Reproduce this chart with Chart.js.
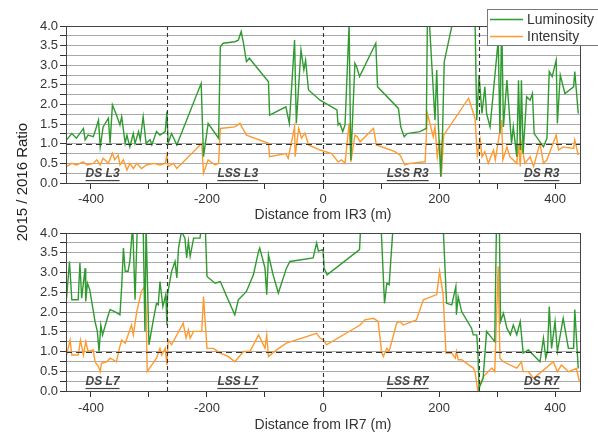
<!DOCTYPE html>
<html>
<head>
<meta charset="utf-8">
<script src="https://cdn.jsdelivr.net/npm/chart.js@4.4.1/dist/chart.umd.min.js"></script>
<style>
  body { margin: 0; background: #fff; }
  #wrap { position: relative; width: 598px; height: 434px; overflow: hidden; }
  canvas { position: absolute; left: 0; }
  #topChart { top: 0; }
  #botChart { top: 217px; }
  #ytitle {
    position: absolute; left: -78px; top: 172px; width: 200px; line-height: 20px;
    text-align: center; font-family: Arial, "Liberation Sans", sans-serif;
    font-size: 15px; font-weight: 400; color: #222;
    transform: rotate(-90deg);
  }
</style>
</head>
<body>
<div id="wrap">
  <canvas id="topChart" width="598" height="224"></canvas>
  <canvas id="botChart" width="598" height="217"></canvas>
  <div id="ytitle">2015 / 2016 Ratio</div>
</div>
<script>
// ---- data: [distance (m), 2015/2016 ratio] ----
const ir3Luminosity = [
  [-442,1.10],[-433,1.26],[-425,1.14],[-413,1.39],[-410,1.10],[-405,1.22],[-396,1.18],[-393,1.31],
  [-387,1.60],[-384,0.92],[-379,1.43],[-370,1.65],[-367,1.01],[-363,1.99],[-356,1.73],[-350,1.48],
  [-347,1.69],[-341,1.01],[-338,1.22],[-333,0.92],[-327,1.26],[-324,1.01],[-318,1.31],[-315,1.10],
  [-310,1.69],[-305,1.01],[-298,1.10],[-295,0.97],[-287,1.31],[-281,1.22],[-272,1.31],[-269,1.82],
  [-267,1.01],[-261,1.26],[-252,0.97],[-210,2.54],[-206,0.67],[-198,1.52],[-180,1.14],[-177,3.47],
  [-172,3.56],[-152,3.60],[-146,3.64],[-141,3.86],[-137,3.56],[-132,3.09],[-127,3.18],[-94,2.58],
  [-92,1.73],[-64,1.94],[-58,1.52],[-49,3.64],[-46,1.52],[-38,3.39],[-33,2.88],[-30,3.13],
  [-25,2.37],[-5,2.11],[24,1.86],[26,1.48],[29,1.52],[34,1.31],[38,1.48],[45,4.05],[48,0.58],
  [55,3.05],[58,2.96],[63,2.71],[91,3.56],[94,2.45],[130,1.90],[134,1.43],[140,1.18],[145,1.26],
  [167,1.31],[178,1.39],[180,4.2],[183,4.2],[193,1.60],[196,2.88],[199,1.43],[203,0.16],[206,1.26],
  [209,3.09],[225,4.2],[262,4.2],[265,1.60],[269,2.75],[274,1.77],[279,2.45],[282,1.77],[288,1.43],
  [302,3.64],[305,1.26],[308,4.2],[311,1.43],[317,2.62],[325,1.01],[328,1.43],[334,0.67],[337,2.62],
  [340,0.84],[342,2.62],[345,0.75],[351,2.20],[357,2.11],[361,2.28],[364,1.26],[380,0.92],[386,1.14],
  [390,2.84],[395,2.71],[402,3.13],[404,1.52],[409,2.75],[417,2.28],[432,2.45],[434,2.84],[440,1.77]
];
const ir3Intensity = [
  [-442,0.42],[-433,0.50],[-425,0.46],[-413,0.54],[-407,0.46],[-396,0.50],[-390,0.59],[-384,0.46],
  [-379,0.63],[-370,0.50],[-363,0.76],[-359,0.59],[-353,0.71],[-350,0.46],[-344,0.59],[-338,0.33],
  [-333,0.50],[-327,0.37],[-321,0.50],[-313,0.37],[-304,0.46],[-292,0.50],[-281,0.46],[-272,0.50],
  [-269,0.71],[-267,0.42],[-258,0.50],[-252,0.37],[-209,1.01],[-206,0.25],[-198,0.59],[-186,0.46],
  [-180,0.50],[-177,1.39],[-152,1.43],[-143,1.52],[-140,1.43],[-132,1.22],[-94,1.01],[-92,0.67],
  [-64,0.75],[-60,0.63],[-49,1.43],[-48,0.67],[-42,1.39],[-37,1.14],[-31,1.27],[-25,0.97],
  [-5,0.84],[15,0.75],[26,0.54],[32,0.59],[38,0.50],[45,1.52],[48,0.54],[55,1.22],[59,1.18],
  [64,1.05],[87,1.39],[92,0.97],[124,0.80],[133,0.71],[141,0.46],[150,0.50],[176,0.54],[180,1.77],
  [190,1.18],[193,1.43],[197,0.67],[201,1.10],[204,0.16],[208,1.22],[251,2.16],[262,1.65],[266,0.71],
  [271,1.10],[274,0.67],[279,0.80],[285,0.50],[294,0.84],[297,0.59],[308,1.60],[310,0.59],[317,0.92],
  [322,0.67],[334,0.50],[337,1.01],[340,0.42],[342,1.01],[348,0.50],[357,0.67],[363,0.42],[374,1.01],
  [380,0.50],[386,0.59],[402,1.22],[406,0.84],[414,0.92],[432,0.88],[434,1.10],[440,0.71]
];
const ir7Luminosity = [
  [-442,2.35],[-437,3.28],[-433,2.31],[-422,2.31],[-419,3.24],[-416,2.35],[-410,3.11],[-409,2.27],
  [-406,2.73],[-402,2.56],[-393,1.76],[-389,1.51],[-386,1.00],[-383,1.67],[-380,1.42],[-370,1.93],
  [-367,2.06],[-359,2.01],[-350,1.93],[-347,2.65],[-344,3.62],[-341,3.03],[-336,3.03],[-333,3.28],
  [-328,4.2],[-324,2.31],[-320,4.2],[-310,4.2],[-307,1.51],[-305,4.2],[-300,1.17],[-292,1.84],
  [-287,2.22],[-284,2.18],[-281,2.77],[-276,2.14],[-271,2.44],[-269,1.67],[-268,2.44],[-261,3.03],
  [-255,3.28],[-252,2.86],[-249,3.62],[-244,4.04],[-238,3.87],[-235,3.37],[-232,3.79],[-229,3.41],
  [-223,3.87],[-212,3.87],[-209,4.2],[-203,4.2],[-200,2.90],[-186,2.73],[-177,2.77],[-166,2.39],
  [-152,1.93],[-146,2.31],[-137,2.44],[-132,2.52],[-120,2.94],[-111,3.54],[-109,3.62],[-100,3.11],
  [-97,2.44],[-94,3.45],[-86,2.94],[-77,2.48],[-63,3.11],[-57,3.28],[-17,3.37],[-11,3.75],[-8,3.54],
  [0,3.58],[2,3.11],[7,2.94],[63,3.58],[65,4.2],[100,4.2],[106,2.22],[110,2.73],[114,2.69],[121,4.2],
  [207,4.2],[213,2.22],[222,2.18],[229,2.65],[230,1.93],[233,2.39],[239,2.01],[256,1.59],[259,1.42],
  [265,1.42],[267,1.00],[269,0.07],[276,0.32],[282,1.51],[296,1.25],[299,4.2],[304,4.2],[306,1.76],
  [311,1.97],[317,1.59],[323,1.42],[328,1.67],[334,1.42],[340,1.76],[345,0.96],[354,1.04],[374,0.74],
  [380,1.34],[384,0.83],[387,1.00],[390,2.14],[394,1.08],[400,1.76],[404,1.00],[414,1.84],[423,1.08],
  [432,1.08],[434,2.06],[440,0.57]
];
const ir7Intensity = [
  [-442,0.91],[-436,1.29],[-433,0.91],[-422,0.91],[-418,1.29],[-413,0.91],[-409,1.25],[-405,1.00],
  [-396,1.04],[-393,0.74],[-387,0.62],[-384,0.49],[-382,0.70],[-373,0.74],[-367,0.83],[-356,0.74],
  [-351,1.08],[-347,1.29],[-341,1.21],[-330,1.67],[-327,1.42],[-321,2.01],[-313,2.52],[-307,2.65],
  [-305,2.10],[-303,0.49],[-287,0.83],[-281,1.08],[-278,0.91],[-272,1.08],[-269,0.66],[-267,1.29],
  [-261,1.17],[-241,1.72],[-236,1.34],[-232,1.55],[-229,1.34],[-223,1.51],[-209,1.51],[-206,2.39],
  [-200,1.08],[-189,1.08],[-177,0.96],[-163,0.87],[-152,0.74],[-137,1.00],[-126,1.00],[-111,1.42],
  [-100,1.08],[-97,1.42],[-94,0.87],[-80,1.04],[-63,1.21],[-11,1.46],[-5,1.34],[1,1.29],[6,1.17],
  [64,1.67],[72,1.80],[87,1.84],[95,1.76],[101,1.00],[104,0.87],[110,1.08],[114,1.00],[127,1.72],
  [133,1.76],[138,1.67],[161,1.80],[173,2.31],[196,2.44],[201,3.03],[207,2.44],[212,0.96],[222,0.96],
  [228,0.83],[230,1.00],[233,0.79],[239,0.79],[259,0.58],[262,0.49],[267,0.00],[276,0.36],[291,0.58],
  [296,0.49],[302,3.16],[305,0.83],[311,0.74],[322,0.66],[334,0.58],[342,0.74],[345,0.49],[354,0.49],
  [363,0.32],[377,0.49],[397,0.74],[404,0.49],[411,0.66],[423,0.49],[437,0.57],[442,0.24]
];

const seriesNames = ['Luminosity', 'Intensity'];
const seriesColors = ['#2f9a2f', '#ff9a2e'];
const xRange = [-443, 443];
const yRange = [0, 4];
const sectorEdges = [-269, 0, 269];   // dashed vertical separators
const unityRatio = 1.0;               // dashed horizontal reference
const ir3Regions = ['DS L3', 'LSS L3', 'LSS R3', 'DS R3'];
const ir7Regions = ['DS L7', 'LSS L7', 'LSS R7', 'DS R7'];
const regionCenters = [-380, -147, 146, 377];
const regionLabelY = 0.23;

Chart.defaults.font.family = 'Arial, "Liberation Sans", sans-serif';
Chart.defaults.color = '#333';

// frame, dashed guides and region labels
const guidesPlugin = {
  id: 'guides',
  afterDatasetsDraw(chart, args, opts) {
    const { ctx, chartArea: a, scales: { x, y } } = chart;
    ctx.save();
    ctx.strokeStyle = '#333';
    ctx.lineWidth = 1.1;
    ctx.setLineDash([4, 3]);
    sectorEdges.forEach(v => {
      const px = Math.round(x.getPixelForValue(v)) + 0.5;
      ctx.beginPath(); ctx.moveTo(px, a.top); ctx.lineTo(px, a.bottom); ctx.stroke();
    });
    ctx.setLineDash([6, 4]);
    const py1 = Math.round(y.getPixelForValue(unityRatio)) + 0.5;
    ctx.beginPath(); ctx.moveTo(a.left, py1); ctx.lineTo(a.right, py1); ctx.stroke();
    ctx.setLineDash([]);

    ctx.font = 'italic bold 12px Arial, "Liberation Sans", sans-serif';
    ctx.fillStyle = '#444';
    ctx.textAlign = 'center';
    ctx.textBaseline = 'middle';
    opts.labels.forEach((t, i) => {
      const px = x.getPixelForValue(regionCenters[i]);
      const py = y.getPixelForValue(regionLabelY);
      ctx.fillText(t, px, py);
      const w = ctx.measureText(t).width;
      ctx.fillRect(px - w / 2, py + 6, w, 1.2);
    });

    ctx.strokeStyle = '#444';
    ctx.lineWidth = 1;
    ctx.strokeRect(a.left + 0.5, a.top + 0.5, a.right - a.left, a.bottom - a.top);
    ctx.restore();
  }
};

// legend box drawn over the upper-right corner of the top panel
const legendPlugin = {
  id: 'boxLegend',
  afterDraw(chart, args, opts) {
    if (!opts.show) return;
    const { ctx } = chart;
    ctx.save();
    ctx.fillStyle = '#fff';
    ctx.fillRect(487, 9, 112, 36);
    ctx.strokeStyle = '#777';
    ctx.lineWidth = 1;
    ctx.strokeRect(487.5, 9.5, 112, 36);
    ctx.font = '14px Arial, "Liberation Sans", sans-serif';
    ctx.textBaseline = 'middle';
    chart.data.datasets.forEach((ds, i) => {
      const yy = 19 + i * 17;
      ctx.strokeStyle = ds.borderColor;
      ctx.lineWidth = 1.5;
      ctx.beginPath(); ctx.moveTo(490, yy + 0.5); ctx.lineTo(523, yy + 0.5); ctx.stroke();
      ctx.fillStyle = '#333';
      ctx.fillText(ds.label, 527, yy + 1);
    });
    ctx.restore();
  }
};

function toPoints(arr) {
  return arr.map(([x, y]) => ({ x, y }));
}

function makePanel(id, lum, inten, regions, xTitle, padTop, xHeight, tickPad, showLegend) {
  return new Chart(document.getElementById(id), {
    type: 'line',
    data: {
      datasets: [lum, inten].map((d, i) => ({
        label: seriesNames[i],
        data: toPoints(d),
        borderColor: seriesColors[i],
        borderWidth: 1.4,
        pointRadius: 0,
        tension: 0,
        fill: false,
        clip: 0
      }))
    },
    options: {
      responsive: false,
      animation: false,
      events: [],
      layout: { padding: { top: padTop, right: 18, left: 0, bottom: 0 } },
      plugins: {
        legend: { display: false },
        tooltip: { enabled: false },
        guides: { labels: regions },
        boxLegend: { show: showLegend }
      },
      scales: {
        x: {
          type: 'linear',
          min: xRange[0], max: xRange[1],
          afterFit: s => { s.height = xHeight; },
          grid: { drawOnChartArea: false, tickLength: 6, tickColor: '#333' },
          border: { color: '#333' },
          ticks: {
            stepSize: 100,
            includeBounds: false,
            autoSkip: false,
            maxRotation: 0,
            padding: tickPad,
            font: { size: 13 },
            callback: v => (v % 200 === 0 ? String(v) : '')
          },
          title: { display: true, text: xTitle, font: { size: 14 }, color: '#333', padding: { top: 0, bottom: 0 } }
        },
        y: {
          min: yRange[0], max: yRange[1],
          afterFit: s => { s.width = 66; },
          grid: { color: '#aaa', tickLength: 6, tickColor: '#333' },
          border: { color: '#333' },
          ticks: {
            stepSize: 0.25,
            autoSkip: false,
            padding: 2,
            font: { size: 13 },
            callback: v => (Math.abs(v * 2 - Math.round(v * 2)) < 1e-6 ? v.toFixed(1) : '')
          }
        }
      }
    },
    plugins: [guidesPlugin, legendPlugin]
  });
}

makePanel('topChart', ir3Luminosity, ir3Intensity, ir3Regions, 'Distance from IR3 (m)', 26, 41, 3, true);
makePanel('botChart', ir7Luminosity, ir7Intensity, ir7Regions, 'Distance from IR7 (m)', 16, 43, 4, false);
</script>
</body>
</html>
